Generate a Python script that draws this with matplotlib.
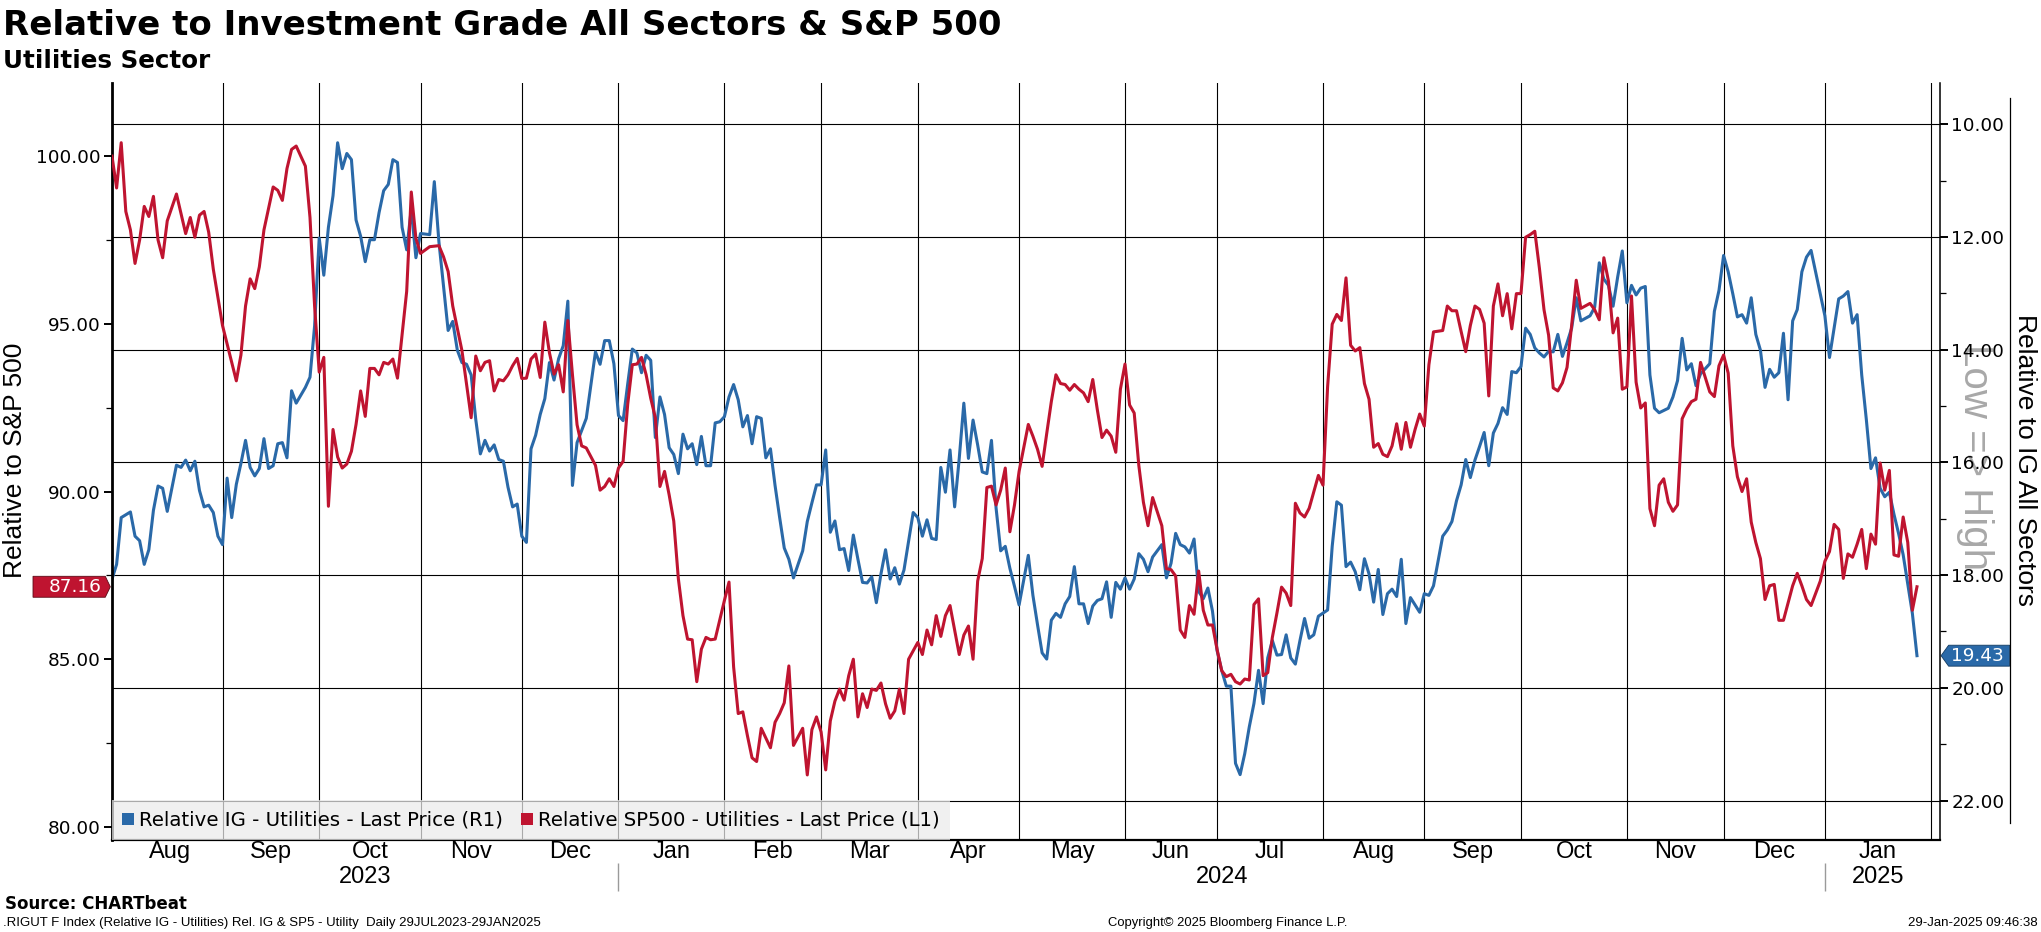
import numpy as np
import matplotlib
matplotlib.use("Agg")
import matplotlib.pyplot as plt
import matplotlib.transforms as mtransforms
from matplotlib.patches import Patch
from matplotlib.lines import Line2D
from matplotlib.path import Path
from matplotlib.ticker import MultipleLocator, FormatStrFormatter

plt.rcParams['font.family'] = ['DejaVu Sans']

# ---------------- data (x = business days since 31 Jul 2023) ----------------
START = '2023-07-31'

ig_days = [0, 1, 2, 4, 5, 6, 7, 8, 9, 10, 11, 12, 14, 15, 16, 17, 18, 19, 20, 21, 22, 23, 24, 25, 26, 27, 28, 29, 30,
           31, 32, 33, 34, 35, 36, 37, 38, 39, 40, 42, 43, 44, 45, 46, 47, 48, 49, 50, 51, 52, 53, 54, 55, 56, 57, 58,
           59, 60, 61, 62, 63, 64, 65, 66, 67, 69, 70, 71, 72, 73, 74, 75, 76, 77, 78, 79, 80, 81, 82, 83, 84, 85, 86,
           87, 88, 89, 90, 91, 92, 93, 94, 95, 96, 97, 98, 99, 100, 101, 103, 105, 106, 107, 108, 109, 110, 111, 112,
           113, 114, 115, 116, 117, 118, 119, 120, 121, 122, 123, 124, 125, 126, 127, 128, 129, 130, 131, 132, 133,
           134, 135, 136, 137, 138, 139, 140, 141, 142, 143, 144, 145, 146, 147, 148, 150, 151, 152, 153, 154, 155,
           156, 157, 158, 159, 160, 161, 162, 163, 164, 165, 166, 167, 168, 169, 170, 171, 172, 174, 175, 176, 177,
           178, 179, 180, 181, 182, 183, 184, 185, 186, 187, 188, 189, 190, 191, 192, 193, 194, 195, 196, 197, 199,
           200, 201, 202, 203, 204, 205, 206, 207, 208, 209, 210, 211, 212, 213, 214, 215, 216, 217, 218, 219, 220,
           221, 222, 223, 224, 225, 226, 228, 229, 230, 231, 232, 233, 234, 235, 236, 237, 238, 239, 240, 241, 242,
           243, 244, 245, 246, 247, 248, 249, 250, 251, 252, 253, 254, 255, 256, 257, 258, 259, 260, 261, 262, 264,
           265, 266, 267, 268, 269, 270, 271, 272, 273, 274, 275, 276, 277, 278, 279, 280, 281, 282, 283, 284, 285,
           286, 287, 289, 290, 291, 292, 293, 294, 295, 296, 297, 298, 299, 300, 301, 302, 303, 304, 305, 306, 307,
           308, 309, 310, 311, 312, 313, 314, 315, 316, 317, 318, 319, 321, 322, 323, 324, 325, 326, 327, 328, 329,
           330, 331, 332, 333, 334, 335, 336, 338, 339, 340, 341, 342, 343, 344, 345, 347, 348, 349, 350, 351, 352,
           353, 354, 355, 356, 357, 358, 359, 360, 361, 362, 363, 364, 365, 366, 367, 368, 369, 371, 372, 373, 374,
           375, 376, 377, 378, 379, 380, 381, 382, 383, 384, 385, 386, 387, 388, 389, 390, 391, 392]
ig_rel = [18.07, 17.81, 16.98, 16.88, 17.31, 17.39, 17.81, 17.55, 16.85, 16.42, 16.46, 16.87, 16.05, 16.09, 15.96,
          16.15, 15.98, 16.5, 16.79, 16.76, 16.89, 17.31, 17.46, 16.28, 16.98, 16.39, 16.02, 15.61, 16.09, 16.24,
          16.11, 15.58, 16.11, 16.06, 15.67, 15.65, 15.92, 14.73, 14.95, 14.67, 14.49, 13.58, 12.02, 12.68, 11.83,
          11.27, 10.33, 10.79, 10.52, 10.63, 11.7, 11.99, 12.44, 12.05, 12.05, 11.57, 11.18, 11.07, 10.63, 10.68,
          11.83, 12.23, 11.5, 12.37, 11.94, 11.96, 11.02, 12.09, 12.88, 13.66, 13.5, 14.01, 14.23, 14.26, 14.45,
          15.24, 15.85, 15.61, 15.8, 15.69, 15.95, 15.98, 16.44, 16.79, 16.74, 17.31, 17.42, 15.76, 15.52, 15.15,
          14.87, 14.23, 14.54, 14.16, 13.93, 13.14, 16.41, 15.65, 15.22, 14.04, 14.26, 13.84, 13.84, 14.25, 15.17,
          15.26, 14.61, 13.99, 14.06, 14.41, 14.1, 14.19, 15.56, 14.84, 15.15, 15.74, 15.86, 16.2, 15.5, 15.76,
          15.67, 16.04, 15.54, 16.06, 16.06, 15.3, 15.28, 15.19, 14.84, 14.62, 14.89, 15.37, 15.17, 15.67, 15.19,
          15.22, 15.92, 15.76, 16.41, 16.98, 17.52, 17.72, 18.05, 17.57, 17.05, 16.72, 16.4, 16.4, 15.78, 17.24,
          17.04, 17.55, 17.53, 17.92, 17.29, 17.72, 18.13, 18.14, 18.03, 18.49, 17.98, 17.55, 18.07, 17.87, 18.16,
          17.91, 16.89, 16.98, 17.31, 17.02, 17.35, 17.37, 16.09, 16.53, 15.78, 16.79, 15.93, 14.95, 15.93, 15.25,
          15.69, 16.17, 16.2, 15.61, 16.81, 17.57, 17.49, 17.88, 18.2, 18.53, 17.65, 18.36, 18.88, 19.38, 19.49,
          18.8, 18.68, 18.75, 18.51, 18.38, 17.85, 18.51, 18.51, 18.86, 18.55, 18.45, 18.42, 18.12, 18.75, 18.13,
          18.25, 18.05, 18.25, 18.07, 17.62, 17.72, 17.94, 17.68, 17.46, 18.05, 17.79, 17.26, 17.46, 17.5, 17.61,
          17.36, 18.29, 18.42, 18.23, 18.64, 19.34, 19.69, 19.97, 19.97, 21.34, 21.54, 21.17, 20.69, 20.28, 19.69,
          20.28, 19.47, 19.16, 19.42, 19.41, 19.06, 19.47, 19.58, 19.16, 18.77, 19.12, 19.06, 18.73, 18.62, 17.49,
          16.7, 16.76, 17.85, 17.77, 17.94, 18.26, 17.71, 17.98, 18.48, 17.9, 18.7, 18.33, 18.25, 18.38, 17.72,
          18.86, 18.4, 18.53, 18.66, 18.33, 18.36, 18.19, 17.31, 17.2, 17.05, 16.68, 16.4, 15.95, 16.27, 15.96,
          15.72, 15.47, 16.06, 15.48, 15.31, 15.03, 15.15, 14.39, 14.41, 14.3, 13.62, 13.73, 13.97, 14.06, 14.13,
          14.03, 14.04, 13.73, 14.12, 13.88, 13.62, 13.08, 13.49, 13.4, 13.25, 12.46, 12.75, 12.86, 13.23, 12.71,
          12.25, 13.17, 12.86, 13.03, 12.91, 12.88, 14.45, 15.04, 15.12, 15.04, 14.84, 14.55, 13.8, 14.36, 14.25,
          14.64, 14.43, 14.25, 13.32, 12.95, 12.33, 12.62, 13.01, 13.42, 13.38, 13.53, 13.08, 13.73, 14.01, 14.67,
          14.35, 14.49, 14.41, 13.71, 14.89, 13.49, 13.29, 12.62, 12.36, 12.24, 13.01, 13.4, 14.14, 13.62, 13.1,
          13.05, 12.97, 13.53, 13.38, 14.45, 15.24, 16.11, 15.92, 16.46, 16.61, 16.53, 16.92, 17.26, 17.64, 18.16,
          18.68, 19.43]

sp_days = [0, 1, 2, 3, 4, 5, 6, 7, 8, 9, 10, 11, 12, 14, 16, 17, 18, 19, 20, 21, 22, 24, 27, 28, 29, 30, 31, 32, 33,
           35, 36, 37, 38, 39, 40, 42, 43, 44, 45, 46, 47, 48, 49, 50, 51, 52, 53, 54, 55, 56, 57, 58, 59, 60, 61, 62,
           64, 65, 66, 67, 69, 71, 72, 73, 74, 76, 77, 78, 79, 80, 81, 82, 83, 84, 85, 86, 87, 88, 89, 90, 91, 92, 93,
           94, 95, 96, 97, 98, 99, 100, 101, 102, 103, 105, 106, 107, 108, 109, 110, 111, 112, 113, 114, 115, 116,
           117, 118, 119, 120, 121, 122, 123, 124, 125, 126, 127, 128, 129, 130, 131, 133, 134, 135, 136, 137, 138,
           139, 140, 141, 142, 143, 144, 145, 146, 147, 148, 150, 151, 152, 153, 154, 155, 156, 157, 158, 159, 160,
           161, 162, 163, 164, 165, 166, 167, 168, 169, 170, 171, 172, 173, 175, 176, 177, 178, 179, 180, 181, 182,
           184, 185, 186, 187, 188, 189, 190, 191, 192, 193, 194, 195, 196, 197, 199, 200, 201, 202, 203, 204, 205,
           206, 207, 208, 209, 210, 211, 212, 213, 214, 215, 216, 217, 218, 219, 220, 221, 222, 223, 224, 225, 226,
           228, 229, 230, 231, 232, 233, 234, 235, 236, 237, 238, 239, 240, 241, 242, 243, 244, 245, 246, 247, 248,
           249, 250, 251, 252, 253, 254, 255, 256, 257, 258, 259, 260, 262, 263, 264, 265, 266, 267, 268, 269, 270,
           271, 272, 273, 274, 275, 276, 277, 278, 279, 280, 281, 282, 283, 284, 285, 286, 287, 289, 290, 291, 292,
           293, 294, 295, 296, 297, 298, 299, 300, 301, 302, 303, 304, 305, 306, 307, 308, 309, 310, 311, 312, 313,
           314, 315, 316, 317, 318, 319, 321, 322, 323, 324, 325, 326, 327, 328, 329, 330, 331, 332, 333, 334, 335,
           336, 337, 338, 339, 340, 341, 342, 343, 344, 345, 347, 348, 349, 350, 351, 352, 353, 354, 355, 356, 357,
           358, 359, 360, 361, 362, 363, 364, 365, 366, 367, 368, 369, 371, 372, 373, 374, 375, 376, 377, 378, 379,
           380, 381, 382, 383, 384, 385, 386, 387, 388, 389, 390, 391, 392]
sp_rel = [100.0, 99.05, 100.4, 98.35, 97.8, 96.8, 97.5, 98.5, 98.2, 98.8, 97.5, 96.97, 98.07, 98.87, 97.69, 98.17,
          97.58, 98.24, 98.35, 97.73, 96.63, 94.95, 93.3, 94.07, 95.53, 96.34, 96.05, 96.7, 97.8, 99.08, 98.98, 98.68,
          99.63, 100.2, 100.3, 99.7, 98.17, 95.53, 93.56, 94.0, 89.56, 91.85, 91.03, 90.7, 90.82, 91.2, 92.0, 93.0,
          92.24, 93.67, 93.67, 93.48, 93.85, 93.8, 93.95, 93.38, 95.97, 98.93, 97.55, 97.1, 97.3, 97.33, 97.0, 96.56,
          95.53, 94.2, 93.2, 92.2, 94.04, 93.6, 93.85, 93.9, 93.0, 93.34, 93.3, 93.48, 93.75, 93.97, 93.37, 93.38,
          93.95, 94.1, 93.4, 95.05, 94.14, 93.5, 93.78, 92.97, 95.1, 93.48, 91.99, 91.36, 91.3, 90.78, 90.04, 90.15,
          90.38, 90.15, 90.7, 90.9, 92.6, 93.78, 93.8, 94.0, 93.48, 92.78, 92.2, 90.15, 90.6, 89.9, 89.12, 87.4,
          86.3, 85.6, 85.58, 84.33, 85.3, 85.65, 85.58, 85.6, 86.75, 87.3, 84.77, 83.38, 83.43, 82.72, 82.06, 81.95,
          82.94, 82.65, 82.36, 83.12, 83.38, 83.7, 84.8, 82.43, 82.94, 81.55, 82.9, 83.28, 82.83, 81.7, 83.16, 83.75,
          84.11, 83.78, 84.51, 85.0, 83.28, 83.97, 83.56, 84.11, 84.07, 84.29, 83.67, 83.24, 83.46, 84.11, 83.38,
          85.0, 85.5, 85.14, 85.87, 85.43, 86.3, 85.68, 86.3, 86.6, 85.14, 85.72, 85.99, 85.0, 87.33, 88.0, 90.12,
          90.16, 89.6, 90.04, 90.7, 88.8, 89.6, 90.6, 92.0, 91.65, 91.26, 90.75, 91.73, 92.68, 93.48, 93.22, 93.19,
          93.02, 93.19, 93.05, 92.94, 92.68, 93.34, 92.43, 91.61, 91.83, 91.65, 91.17, 93.05, 93.8, 92.58, 92.34,
          90.78, 89.68, 88.98, 89.82, 88.98, 87.7, 87.67, 87.48, 85.87, 85.65, 86.6, 86.34, 87.63, 86.46, 86.02,
          86.02, 85.29, 84.66, 84.48, 84.55, 84.33, 84.26, 84.41, 84.38, 86.63, 86.8, 84.51, 84.6, 85.65, 86.38,
          87.15, 86.97, 86.6, 89.65, 89.36, 89.24, 89.5, 90.48, 90.19, 93.12, 94.99, 95.28, 95.1, 96.37, 94.36,
          94.19, 94.29, 93.22, 92.75, 91.32, 91.43, 91.11, 91.04, 91.36, 92.02, 91.26, 92.06, 91.32, 91.85, 92.31,
          91.95, 93.78, 94.76, 94.8, 95.53, 95.39, 95.39, 94.77, 94.17, 94.95, 95.53, 95.43, 95.02, 92.85, 95.53,
          96.19, 95.24, 95.9, 94.85, 95.9, 95.9, 97.58, 97.66, 97.76, 96.66, 95.42, 94.66, 93.09, 93.0, 93.24, 93.7,
          94.95, 96.3, 95.46, 95.61, 95.42, 95.12, 96.97, 96.27, 94.73, 95.17, 93.05, 93.12, 95.83, 93.26, 92.49,
          92.64, 89.49, 88.98, 90.19, 90.38, 89.68, 89.41, 89.6, 92.17, 92.46, 92.68, 92.75, 93.85, 92.97, 92.83,
          93.75, 94.07, 93.53, 91.36, 90.44, 90.0, 90.38, 89.09, 88.48, 88.0, 86.78, 87.19, 87.23, 86.16, 86.16,
          86.68, 87.19, 87.56, 87.19, 86.78, 86.6, 87.33, 87.92, 88.21, 89.02, 88.87, 87.41, 88.14, 88.04, 88.43,
          88.87, 87.7, 88.73, 88.43, 90.85, 90.04, 90.63, 88.11, 88.07, 89.24, 88.48, 86.46, 87.16]

month_starts = ['2023-08-01', '2023-09-01', '2023-10-01', '2023-11-01', '2023-12-01', '2024-01-01',
                '2024-02-01', '2024-03-01', '2024-04-01', '2024-05-01', '2024-06-01', '2024-07-01',
                '2024-08-01', '2024-09-01', '2024-10-01', '2024-11-01', '2024-12-01', '2025-01-01',
                '2025-02-01']
month_labels = ['Aug', 'Sep', 'Oct', 'Nov', 'Dec', 'Jan', 'Feb', 'Mar', 'Apr', 'May', 'Jun', 'Jul',
                'Aug', 'Sep', 'Oct', 'Nov', 'Dec', 'Jan']
year_labels = ['2023', '2024', '2025']
year_starts = ['2024-01-01', '2025-01-01']
axis_end = '2025-02-05'

left_ticks = [80, 85, 90, 95, 100]
right_ticks = [10, 12, 14, 16, 18, 20, 22]

ig_label = 'Relative IG - Utilities - Last Price (R1)'
sp_label = 'Relative SP500 - Utilities - Last Price (L1)'

BLUE = '#2a69a8'
RED = '#bf1430'
NARROW = ['Liberation Sans', 'DejaVu Sans']
CONDENSED = ['Liberation Sans Narrow', 'Liberation Sans', 'DejaVu Sans']

# ---------------- figure ----------------
W, H = 2041, 932
fig = plt.figure(figsize=(W / 100, H / 100), dpi=100, facecolor='white')
ax = fig.add_axes([112 / W, 1 - 840 / H, (1940 - 112) / W, (840 - 83) / H])
ax2 = ax.twinx()
ax.yaxis.tick_right()
ax2.yaxis.tick_left()
ax.set_facecolor('white')

month_x = np.busday_count(START, month_starts)
year_x = np.busday_count(START, year_starts)
x_end = np.busday_count(START, axis_end)
ax.set_xlim(0, x_end)

ax.set_ylim(22.70, 9.27)      # inverted right axis
ax2.set_ylim(79.61, 102.18)

# lines
ax.plot(ig_days, ig_rel, color=BLUE, lw=2.2, solid_joinstyle='round', zorder=3)
ax2.plot(sp_days, sp_rel, color=RED, lw=2.2, solid_joinstyle='round', zorder=3)

# grid: month boundaries and right-axis major ticks
ax.set_xticks(month_x[1:])
ax.set_xticklabels([])
ax.tick_params(axis='x', which='major', length=0)
mids = [(a + b) / 2 for a, b in zip(month_x[:-1], month_x[1:])]
ax.set_xticks(mids, minor=True)
ax.set_xticklabels(month_labels, minor=True)
ax.tick_params(axis='x', which='minor', length=0, pad=0.5, labelsize=17)
for lbl in ax.get_xticklabels(minor=True):
    lbl.set_fontfamily(CONDENSED)
ax.grid(axis='x', which='major', color='black', lw=0.8)
ax.grid(axis='y', which='major', color='black', lw=0.8)
ax.set_axisbelow(True)

# right axis ticks
ax.set_yticks(right_ticks)
ax.yaxis.set_minor_locator(MultipleLocator(1))
ax.yaxis.set_major_formatter(FormatStrFormatter('%.2f'))
ax.tick_params(axis='y', which='major', length=6, width=1.4, pad=2.2, labelsize=13.3)
ax.tick_params(axis='y', which='minor', length=4, width=0.9)

# left axis ticks
ax2.set_yticks(left_ticks)
ax2.yaxis.set_minor_locator(MultipleLocator(2.5))
ax2.yaxis.set_major_formatter(FormatStrFormatter('%.2f'))
ax2.tick_params(axis='y', which='major', length=5.5, width=1.4, pad=3.0, labelsize=13.3)
ax2.tick_params(axis='y', which='minor', length=4, width=0.9)

for s in ax.spines.values():
    s.set_visible(False)
ax2.spines['top'].set_visible(False)
ax2.spines['left'].set_linewidth(2.0)
ax2.spines['bottom'].set_linewidth(1.6)
ax2.spines['right'].set_linewidth(1.1)

# year labels and separators under month labels
bt = mtransforms.blended_transform_factory(ax.transData, ax.transAxes)
bounds = [0] + list(year_x) + [month_x[-1]]
for lab, a, b in zip(year_labels, bounds[:-1], bounds[1:]):
    ax.text((a + b) / 2, -0.049, lab, transform=bt, ha='center', va='center',
            fontsize=17, family=CONDENSED)
ax.vlines(year_x, -0.030, -0.068, transform=bt, color='#9a9a9a', lw=1, clip_on=False)

# legend
handles = [Patch(facecolor=BLUE, edgecolor='none'), Patch(facecolor=RED, edgecolor='none')]
leg = ax2.legend(handles, [ig_label, sp_label], loc='lower left', bbox_to_anchor=(0, 0),
                 ncol=2, fontsize=14.2, frameon=True, fancybox=False, facecolor='#ebebeb',
                 edgecolor='none', framealpha=0.72, handlelength=0.58, handleheight=0.58,
                 handletextpad=0.25, columnspacing=0.95, borderpad=0.52, borderaxespad=0)


# last value tags
def tag_right(x0, y0, width, height, mutation_size):
    pv = mutation_size * 0.08
    x0 = x0 - mutation_size * 0.85
    x1 = x0 + width + mutation_size * 1.05
    y0 = y0 - pv
    y1 = y0 + height + 2 * pv
    tip = (y1 - y0) * 0.24
    return Path([(x0, y0), (x1, y0), (x1 + tip, (y0 + y1) / 2), (x1, y1), (x0, y1), (x0, y0)],
                closed=True)


def tag_left(x0, y0, width, height, mutation_size):
    pv = mutation_size * 0.08
    x0 = x0 - mutation_size * 0.15
    x1 = x0 + width + mutation_size * 0.45
    y0 = y0 - pv
    y1 = y0 + height + 2 * pv
    tip = (y1 - y0) * 0.36
    return Path([(x0, y0), (x1, y0), (x1, y1), (x0, y1), (x0 - tip, (y0 + y1) / 2), (x0, y0)],
                closed=True)


lt = mtransforms.blended_transform_factory(ax2.transAxes, ax2.transData)
ax2.annotate(f'{sp_rel[-1]:.2f}', xy=(0, sp_rel[-1]), xycoords=lt, xytext=(-7.5, 0),
             textcoords='offset points', ha='right', va='center', color='white', fontsize=13.3,
             bbox=dict(boxstyle=tag_right, fc=RED, ec='#5a0a16', lw=0.6),
             annotation_clip=False, zorder=6)
rt = mtransforms.blended_transform_factory(ax.transAxes, ax.transData)
ax.annotate(f'{ig_rel[-1]:.2f}', xy=(1, ig_rel[-1]), xycoords=rt, xytext=(8.2, 0),
            textcoords='offset points', ha='left', va='center', color='white', fontsize=13.3,
            bbox=dict(boxstyle=tag_left, fc=BLUE, ec='#123a60', lw=0.6),
            annotation_clip=False, zorder=6)

# axis titles and decorations
fig.text(15 / W, 1 - 460 / H, 'Relative to S&P 500', rotation=90, ha='center', va='center',
         fontsize=19, family=NARROW)
fig.text(2025 / W, 1 - 460 / H, 'Relative to IG All Sectors', rotation=270, ha='center',
         va='center', fontsize=19, family=NARROW)
fig.text(1975 / W, 1 - 457 / H, 'Low => High', rotation=270, ha='center', va='center',
         fontsize=29, family=NARROW, color='#a8a8a8', zorder=-1)
fig.add_artist(Line2D([2010 / W, 2010 / W], [1 - 98 / H, 1 - 823 / H], color='black', lw=0.9))

# titles
fig.text(3 / W, 1 - 35 / H, 'Relative to Investment Grade All Sectors & S&P 500',
         fontsize=24.5, fontweight='bold', va='baseline', ha='left')
fig.text(3 / W, 1 - 68 / H, 'Utilities Sector', fontsize=17.7, fontweight='bold',
         va='baseline', ha='left')

# footer
fig.text(5 / W, 1 - 909 / H, 'Source: CHARTbeat', fontsize=12, fontweight='bold',
         va='baseline', ha='left')
fig.text(3 / W, 1 - 926 / H,
         '.RIGUT F Index (Relative IG - Utilities) Rel. IG & SP5 - Utility  Daily 29JUL2023-29JAN2025',
         fontsize=9.5, family=NARROW, va='baseline', ha='left')
fig.text(1228 / W, 1 - 926 / H, 'Copyright\u00a9 2025 Bloomberg Finance L.P.', fontsize=9.4,
         family=NARROW, va='baseline', ha='center')
fig.text(2038 / W, 1 - 926 / H, '29-Jan-2025 09:46:38', fontsize=9.5, family=NARROW,
         va='baseline', ha='right')

fig.savefig('out.png', dpi=100, facecolor='white')
